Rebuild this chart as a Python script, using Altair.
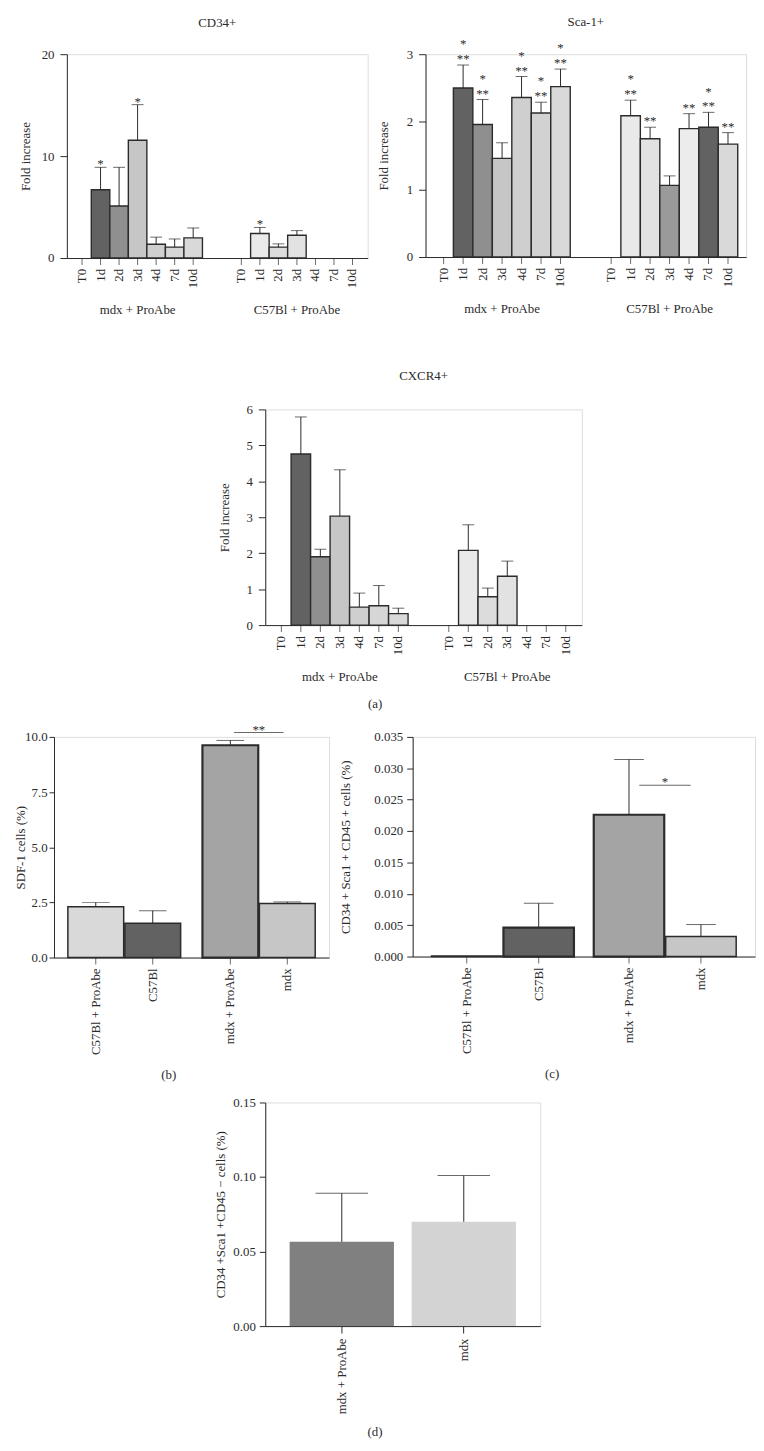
import altair as alt
import pandas as pd

FONT = "Liberation Serif"
INK = "#2b2b2b"
FS = 13

times = ["T0", "1d", "2d", "3d", "4d", "7d", "10d"]
groups = ["mdx + ProAbe", "C57Bl + ProAbe"]

# ---------- (a) CD34+ ----------
cd34_mdx = [0, 6.7, 5.1, 11.55, 1.35, 1.07, 1.98]
cd34_mdx_sem = [0, 2.2, 3.8, 3.5, 0.7, 0.8, 0.97]
cd34_c57 = [0, 2.4, 1.07, 2.24, 0, 0, 0]
cd34_c57_sem = [0, 0.6, 0.32, 0.45, 0, 0, 0]
cd34_mdx_star = ["", "*", "", "*", "", "", ""]
cd34_c57_star = ["", "*", "", "", "", "", ""]
cd34_mdx_fill = ["none", "checker", "hstripe", "vstripe", "dots", "fine", "grid"]
cd34_c57_fill = ["none", "diag", "diag2", "vstripe_w", "none", "none", "none"]

# ---------- (a) Sca-1+ ----------
sca_mdx = [0, 2.50, 1.96, 1.46, 2.36, 2.13, 2.52]
sca_mdx_sem = [0, 0.34, 0.37, 0.23, 0.31, 0.16, 0.26]
sca_c57 = [0, 2.09, 1.75, 1.06, 1.90, 1.92, 1.67]
sca_c57_sem = [0, 0.23, 0.17, 0.14, 0.22, 0.22, 0.17]
sca_mdx_star2 = ["", "**", "**", "", "**", "**", "**"]
sca_mdx_star1 = ["", "*", "*", "", "*", "*", "*"]
sca_c57_star2 = ["", "**", "**", "", "**", "**", "**"]
sca_c57_star1 = ["", "*", "", "", "", "*", ""]
sca_mdx_fill = ["none", "checker", "hstripe", "vstripe", "dots", "chevron", "grid"]
sca_c57_fill = ["none", "diag", "vstripe_w", "hstripe_d", "grid_w", "checker", "grid"]

# ---------- (a) CXCR4+ ----------
cx_mdx = [0, 4.76, 1.90, 3.03, 0.50, 0.54, 0.32]
cx_mdx_sem = [0, 1.03, 0.21, 1.29, 0.39, 0.56, 0.15]
cx_c57 = [0, 2.08, 0.79, 1.36, 0, 0, 0]
cx_c57_sem = [0, 0.71, 0.24, 0.42, 0, 0, 0]
cx_mdx_fill = ["none", "checker", "hstripe", "vstripe", "dots", "fine", "grid"]
cx_c57_fill = ["none", "diag", "diag2", "vstripe_w", "none", "none", "none"]

# ---------- (b) SDF-1 ----------
bc_cats = ["C57Bl + ProAbe", "C57Bl", "mdx + ProAbe", "mdx"]
sdf_vals = [2.30, 1.55, 9.62, 2.45]
sdf_sem = [0.20, 0.57, 0.22, 0.07]
sdf_fill = ["grid", "checker", "hstripe_b", "vstripe"]

# ---------- (c) CD34+Sca1+CD45+ ----------
cdp_vals = [0.0001, 0.0046, 0.0226, 0.0032]
cdp_sem = [0.0, 0.0039, 0.0088, 0.0019]
cdp_fill = ["grid", "checker", "hstripe_b", "vstripe"]

# ---------- (d) CD34+Sca1+CD45- ----------
d_cats = ["mdx + ProAbe", "mdx"]
d_vals = [0.0565, 0.0700]
d_sem = [0.0326, 0.0310]
d_fill = ["solid_dark", "solid_light"]

panel_a_label = ["(a)"]

FILL_KEYS = ["checker", "hstripe", "hstripe_b", "hstripe_d", "vstripe", "vstripe_w",
             "dots", "fine", "chevron", "grid", "grid_w", "diag", "diag2", "none",
             "solid_dark", "solid_light"]
FILL_COLORS = ["#626262", "#8f8f8f", "#a4a4a4", "#9a9a9a", "#c6c6c6", "#e2e2e2",
               "#cfcfcf", "#d6d6d6", "#d2d2d2", "#d9d9d9", "#ececec", "#e9e9e9",
               "#dcdcdc", "#ffffff", "#808080", "#d3d3d3"]
fill_scale = alt.Scale(domain=FILL_KEYS, range=FILL_COLORS)


def title_params(text, offset, orient="top", dx=0):
    return alt.TitleParams(text, orient=orient, anchor="middle", font=FONT, fontSize=FS,
                           fontWeight="normal", color=INK, offset=offset, dx=dx)


def yaxis(title, values, title_x=None, fmt=None, tick=7, lpad=6, tpad=None):
    kw = dict(title=title, values=values, grid=False, tickSize=tick, labelPadding=lpad,
              labelFont=FONT, labelFontSize=FS, titleFont=FONT,
              titleFontSize=FS, titleFontWeight="normal", labelColor=INK,
              titleColor=INK, domainColor=INK, tickColor=INK)
    if title_x is not None:
        kw["titleX"] = title_x
    if tpad is not None:
        kw["titlePadding"] = tpad
    if fmt:
        kw["format"] = fmt
    return alt.Axis(**kw)


def spacer(w, h=1):
    return alt.Chart(pd.DataFrame({"s": [0]})).mark_point(opacity=0, size=1, strokeWidth=0).properties(
        width=w, height=h)


def hcat(*charts, spacing):
    return alt.hconcat(*charts, spacing=spacing).resolve_scale(xOffset="independent")


def vcat(*charts, spacing):
    return alt.vconcat(*charts, spacing=spacing).resolve_scale(xOffset="independent")


def time_panel(title, ymax, yvals, W, H, pi, po, mdx, mdx_sem, c57, c57_sem,
               mdx_fill, c57_fill, mdx_s2, c57_s2, mdx_s1=None, c57_s1=None,
               toff=20, title_x=None, tpad=None, s2_dy=1, s1_dy=-17):
    rows = []
    sets = [(groups[0], mdx, mdx_sem, mdx_fill, mdx_s2, mdx_s1),
            (groups[1], c57, c57_sem, c57_fill, c57_s2, c57_s1)]
    for g, vals, sems, fills, s2, s1 in sets:
        for i, t in enumerate(times):
            rows.append({"group": g, "time": t, "value": vals[i],
                         "upper": vals[i] + sems[i], "fill": fills[i], "zero": 0,
                         "s2": s2[i], "s1": (s1[i] if s1 else "")})
    df = pd.DataFrame(rows)
    ax = yaxis("Fold increase", yvals, title_x=title_x, tpad=tpad)
    ysc = alt.Scale(domain=[0, ymax], nice=False)

    def Y(f):
        return alt.Y(f, scale=ysc, axis=ax, title="Fold increase")

    x = alt.X("group:N", scale=alt.Scale(type="band", domain=groups, paddingInner=pi, paddingOuter=po),
              axis=alt.Axis(title=None, labelAngle=0, ticks=False, tickSize=0,
                            labelPadding=46, labelFont=FONT, labelFontSize=FS,
                            labelColor=INK, domainColor=INK))
    xo = alt.XOffset("time:N", scale=alt.Scale(type="band", domain=times, paddingInner=0, paddingOuter=0))
    base = alt.Chart(df)
    bars = base.transform_filter("datum.value > 0").mark_bar(
        stroke=INK, strokeWidth=1.4).encode(
        x=x, xOffset=xo, y=Y("value:Q"),
        fill=alt.Fill("fill:N", scale=fill_scale, legend=None))
    err = base.transform_filter("datum.upper > datum.value").mark_rule(
        color=INK, strokeWidth=1).encode(x=x, xOffset=xo, y=Y("value:Q"), y2="upper:Q")
    cap = base.transform_filter("datum.upper > datum.value").mark_tick(
        color=INK, thickness=1, size=12).encode(x=x, xOffset=xo, y=Y("upper:Q"))
    ticks = base.mark_tick(orient="vertical", color=INK, thickness=1, size=7,
                           yOffset=3.5).encode(x=x, xOffset=xo, y=Y("zero:Q"))
    labels = base.mark_text(angle=270, align="right", baseline="middle", dx=-11,
                            font=FONT, fontSize=FS, color=INK).encode(
        x=x, xOffset=xo, y=Y("zero:Q"), text="time:N")
    star2 = base.transform_filter("datum.s2 != ''").mark_text(
        baseline="alphabetic", dy=s2_dy, font=FONT, fontSize=FS, color=INK).encode(
        x=x, xOffset=xo, y=Y("upper:Q"), text="s2:N")
    star1 = base.transform_filter("datum.s1 != ''").mark_text(
        baseline="alphabetic", dy=s1_dy, font=FONT, fontSize=FS, color=INK).encode(
        x=x, xOffset=xo, y=Y("upper:Q"), text="s1:N")
    return alt.layer(bars, err, cap, ticks, labels, star2, star1).properties(
        width=W, height=H, title=title_params(title, toff))


def pair_panel(ytitle, ymax, yvals, fmt, W, H, pi, po, vals, sems, fills,
               star, y_line, star_dy, br_len, bar_sw, cap_size, title_x, tlabel, tdx,
               tick, lpad, toff, tpad=None):
    pairs = ["p1", "p1", "p2", "p2"]
    slots = ["a", "b", "a", "b"]
    df = pd.DataFrame({"pair": pairs, "slot": slots, "cat": bc_cats, "value": vals,
                       "upper": [v + s for v, s in zip(vals, sems)], "fill": fills,
                       "zero": [0] * 4, "sw": bar_sw})
    ax = yaxis(ytitle, yvals, title_x=title_x, fmt=fmt, tick=tick, lpad=lpad, tpad=tpad)
    ysc = alt.Scale(domain=[0, ymax], nice=False)

    def Y(f):
        return alt.Y(f, scale=ysc, axis=ax, title=ytitle)

    x = alt.X("pair:N", scale=alt.Scale(type="band", domain=["p1", "p2"], paddingInner=pi, paddingOuter=po),
              axis=alt.Axis(title=None, labels=False, ticks=False, domainColor=INK))
    xo = alt.XOffset("slot:N", scale=alt.Scale(type="band", domain=["a", "b"],
                                              paddingInner=0.02, paddingOuter=0))
    base = alt.Chart(df)
    bars = base.mark_bar(stroke=INK).encode(
        x=x, xOffset=xo, y=Y("value:Q"),
        fill=alt.Fill("fill:N", scale=fill_scale, legend=None),
        strokeWidth=alt.StrokeWidth("sw:Q", scale=None))
    err = base.transform_filter("datum.upper > datum.value").mark_rule(
        color=INK, strokeWidth=1).encode(x=x, xOffset=xo, y=Y("value:Q"), y2="upper:Q")
    cap = base.transform_filter("datum.upper > datum.value").mark_tick(
        color=INK, thickness=1, size=cap_size).encode(x=x, xOffset=xo, y=Y("upper:Q"))
    ticks = base.mark_tick(orient="vertical", color=INK, thickness=1, size=7,
                           yOffset=3.5).encode(x=x, xOffset=xo, y=Y("zero:Q"))
    labels = base.mark_text(angle=270, align="right", baseline="middle", dx=-11,
                            font=FONT, fontSize=FS, color=INK).encode(
        x=x, xOffset=xo, y=Y("zero:Q"), text="cat:N")
    brk = pd.DataFrame({"pair": ["p2"], "yv": [y_line], "star": [star]})
    bline = alt.Chart(brk).mark_tick(color=INK, thickness=1, size=br_len).encode(
        x=x, y=Y("yv:Q"))
    bstar = alt.Chart(brk).mark_text(
        baseline="alphabetic", dy=star_dy, font=FONT, fontSize=FS, color=INK).encode(
        x=x, y=Y("yv:Q"), text="star:N")
    return alt.layer(bars, err, cap, ticks, labels, bline, bstar).properties(
        width=W, height=H, title=title_params(tlabel, toff, "bottom", tdx))


cd34 = time_panel("CD34+", 20, [0, 10, 20], 304, 206, 0.186, 0.037,
                  cd34_mdx, cd34_mdx_sem, cd34_c57, cd34_c57_sem,
                  cd34_mdx_fill, cd34_c57_fill, cd34_mdx_star, cd34_c57_star,
                  toff=18, title_x=-35, tpad=9, s2_dy=1)
sca = time_panel("Sca-1+", 3, [0, 1, 2, 3], 324, 205, 0.186, 0.05,
                 sca_mdx, sca_mdx_sem, sca_c57, sca_c57_sem,
                 sca_mdx_fill, sca_c57_fill, sca_mdx_star2, sca_c57_star2,
                 sca_mdx_star1, sca_c57_star1, toff=9, title_x=-35, tpad=15,
                 s2_dy=-2, s1_dy=-17)
cx = time_panel("CXCR4+", 6, [0, 1, 2, 3, 4, 5, 6], 320, 218, 0.185, 0.038,
                cx_mdx, cx_mdx_sem, cx_c57, cx_c57_sem,
                cx_mdx_fill, cx_c57_fill, [""] * 7, [""] * 7, toff=21, title_x=-34, tpad=14)

pb = pair_panel("SDF-1 cells (%)", 10, [0, 2.5, 5, 7.5, 10], ".1f", 278, 223, 0.162, 0.103,
                sdf_vals, sdf_sem, sdf_fill, "**", 10.2, 2, 50, [1.5, 1.5, 2.2, 1.5], 28,
                -27, "(b)", -23, 5, 2, 14)
pc = pair_panel("CD34 + Sca1 + CD45 + cells (%)", 0.035,
                [0, 0.005, 0.01, 0.015, 0.02, 0.025, 0.03, 0.035], ".3f", 346, 222,
                0.122, 0.116, cdp_vals, cdp_sem, cdp_fill, "*", 0.0273, 1, 52,
                [1.5, 2.2, 2.2, 1.5], 30, -61, "(c)", -32, 6, 4, 14, tpad=22)

# ---------- (d) ----------
dfd = pd.DataFrame({"cat": d_cats, "value": d_vals, "fill": d_fill,
                    "upper": [v + s for v, s in zip(d_vals, d_sem)]})
dtitle = "CD34 +Sca1 +CD45 \u2212 cells (%)"
dax = yaxis(dtitle, [0, 0.05, 0.10, 0.15], title_x=-38, fmt=".2f", tick=6, lpad=4, tpad=7)
dysc = alt.Scale(domain=[0, 0.15], nice=False)
dx_enc = alt.X("cat:N", scale=alt.Scale(domain=d_cats, paddingInner=0.145, paddingOuter=0.2),
               axis=alt.Axis(title=None, labelAngle=270, tickSize=7, labelPadding=5,
                             labelFont=FONT, labelFontSize=FS, labelColor=INK,
                             domainColor=INK, tickColor=INK))
dbase = alt.Chart(dfd)
dbars = dbase.mark_bar().encode(
    x=dx_enc, y=alt.Y("value:Q", scale=dysc, axis=dax, title=dtitle),
    fill=alt.Fill("fill:N", scale=fill_scale, legend=None))
derr = dbase.mark_rule(color=INK, strokeWidth=1).encode(
    x=dx_enc, y=alt.Y("value:Q", scale=dysc, axis=dax, title=dtitle), y2="upper:Q")
dcap = dbase.mark_tick(color=INK, thickness=1, size=53).encode(
    x=dx_enc, y=alt.Y("upper:Q", scale=dysc, axis=dax, title=dtitle))
pd_chart = alt.layer(dbars, derr, dcap).properties(
    width=278, height=226, title=title_params("(d)", 12, "bottom", -28))

# "(a)" caption as a small text view
lab_a = alt.Chart(pd.DataFrame({"t": panel_a_label})).mark_text(
    font=FONT, fontSize=FS, color=INK, baseline="middle").encode(text="t:N").properties(
    width=30, height=14)

row1 = hcat(spacer(1), hcat(cd34, sca, spacing=8.5), spacing=9.5)
row2 = hcat(spacer(202), cx, spacing=10)
rowA = hcat(spacer(346), lab_a, spacing=10)
row3 = hcat(spacer(1), hcat(pb, pc, spacing=8.5), spacing=4.5)
row4 = hcat(spacer(198), pd_chart, spacing=10)

upper_block = vcat(vcat(row1, row2, spacing=52), rowA, spacing=13)
lower_block = vcat(row3, row4, spacing=12.5)
chart = vcat(upper_block, lower_block, spacing=13).properties(
    padding={"left": 0, "top": 0, "right": 0, "bottom": 0}
).configure_view(stroke=None).configure(font=FONT)

chart.save("out.html", embed_options={"renderer": "svg", "actions": False})
